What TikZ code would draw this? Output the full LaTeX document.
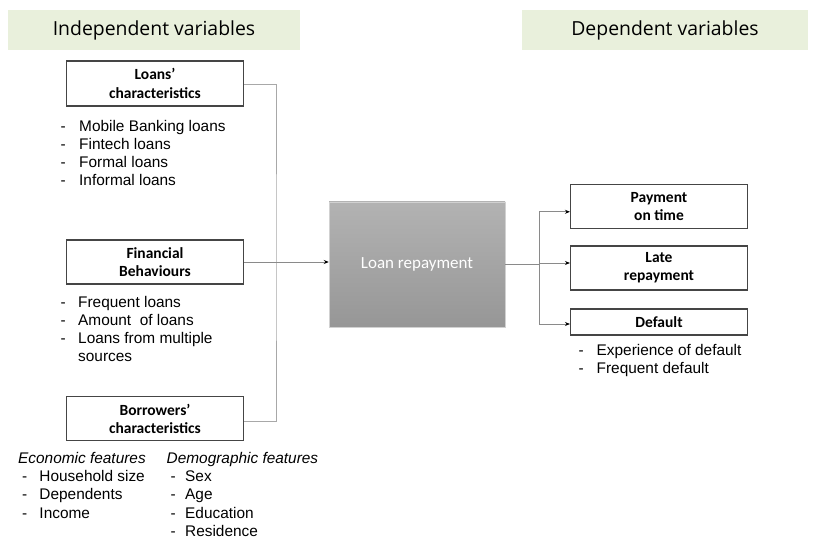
\documentclass[tikz,border=0pt]{standalone}
\usepackage{fontspec}
\setmainfont{Liberation Sans}
\newfontfamily\hdrfont{Open Sans}
\newfontfamily\calfont{Carlito}
\usetikzlibrary{arrows.meta}
\definecolor{hdrgreen}{HTML}{E9F0DC}
\definecolor{boxline}{HTML}{454545}
\definecolor{connline}{HTML}{8A8A8A}
\definecolor{brkline}{HTML}{A8A8A8}
\tikzset{
  hdr/.style={fill=hdrgreen, minimum width=292pt, minimum height=40pt, inner sep=0pt,
    font=\hdrfont\fontsize{19.4}{22}\selectfont},
  vbox/.style={draw=boxline, line width=1.1pt, fill=white, minimum width=177pt, inner sep=0pt,
    align=center, font=\calfont\bfseries\fontsize{15.5}{18.3}\selectfont},
  lst/.style={anchor=north west, inner sep=0pt, align=left, font=\fontsize{15.4}{18.3}\selectfont},
  conn/.style={draw=connline, line width=0.8pt},
  brk/.style={draw=brkline, line width=0.9pt},
  arr/.style={conn, -{Stealth[length=5pt,width=4pt,black]}},
}
\begin{document}
\begin{tikzpicture}[x=1pt,y=-1pt]
\useasboundingbox (0,0) rectangle (814,537);

% headers
\node[hdr] (hind) at (154,30.5) {Independent variables};
\node[hdr, minimum width=286pt] (hdep) at (665,30.5) {Dependent variables};

% left boxes
\node[vbox, minimum height=45pt] (loans) at (155,83.5) {Loans’\\characteristics};
\node[vbox, minimum height=44pt] (fin) at (155,262) {Financial\\Behaviours};
\node[vbox, minimum height=44pt] (borr) at (155,418.7) {Borrowers’\\characteristics};

% central box
\node[minimum width=176pt, minimum height=125pt, inner sep=0pt,
      top color=black!30, bottom color=black!41, draw=black!18, line width=0.5pt,
      text=white, font=\calfont\fontsize{17}{20}\selectfont] (rep) at (417,264.5) {Loan repayment};

% right boxes
\node[vbox, minimum height=44pt] (pay) at (659,206.3) {Payment\\on time};
\node[vbox, minimum height=44pt] (late) at (659,268) {Late\\repayment};
\node[vbox, minimum height=26pt] (def) at (659,322) {Default};

% lists
\node[lst] (l1) at (60.5,118) {\begin{tabular}{@{}p{18.5pt}@{}l@{}}
- & Mobile Banking loans\\
- & Fintech loans\\
- & Formal loans\\
- & Informal loans
\end{tabular}};
\node[lst] (l2) at (60.5,294) {\begin{tabular}{@{}p{17.5pt}@{}l@{}}
- & Frequent loans\\
- & Amount \ of loans\\
- & Loans from multiple\\
  & sources
\end{tabular}};
\node[lst] (l3) at (18,450.3) {\begin{tabular}{@{}p{21.3pt}@{}l@{}}
\multicolumn{2}{@{}l@{}}{\itshape Economic features}\\
\hspace{4pt}- & Household size\\
\hspace{4pt}- & Dependents\\
\hspace{4pt}- & Income
\end{tabular}};
\node[lst] (l4) at (166.5,450.3) {\begin{tabular}{@{}p{18.5pt}@{}l@{}}
\multicolumn{2}{@{}l@{}}{\itshape Demographic features}\\
\hspace{4pt}- & Sex\\
\hspace{4pt}- & Age\\
\hspace{4pt}- & Education\\
\hspace{4pt}- & Residence
\end{tabular}};
\node[lst] (l5) at (578.5,342.3) {\begin{tabular}{@{}p{18pt}@{}l@{}}
- & Experience of default\\
- & Frequent default
\end{tabular}};

% connectors left
\coordinate (j) at (276,262);
\draw[brk] ([yshift=-0.5pt]loans.east) -| (j) |- ([yshift=-3pt]borr.east);
\draw[arr] (fin.east) -- (fin.east -| rep.west);

% connectors right
\coordinate (k) at (539,264.5);
\draw[conn] (rep.east) -- (k);
\draw[arr] (k) |- ([yshift=-5.5pt]pay.west);
\draw[arr] (k) |- ([yshift=5pt]late.west);
\draw[arr] (k) |- ([yshift=-2pt]def.west);
\end{tikzpicture}
\end{document}
